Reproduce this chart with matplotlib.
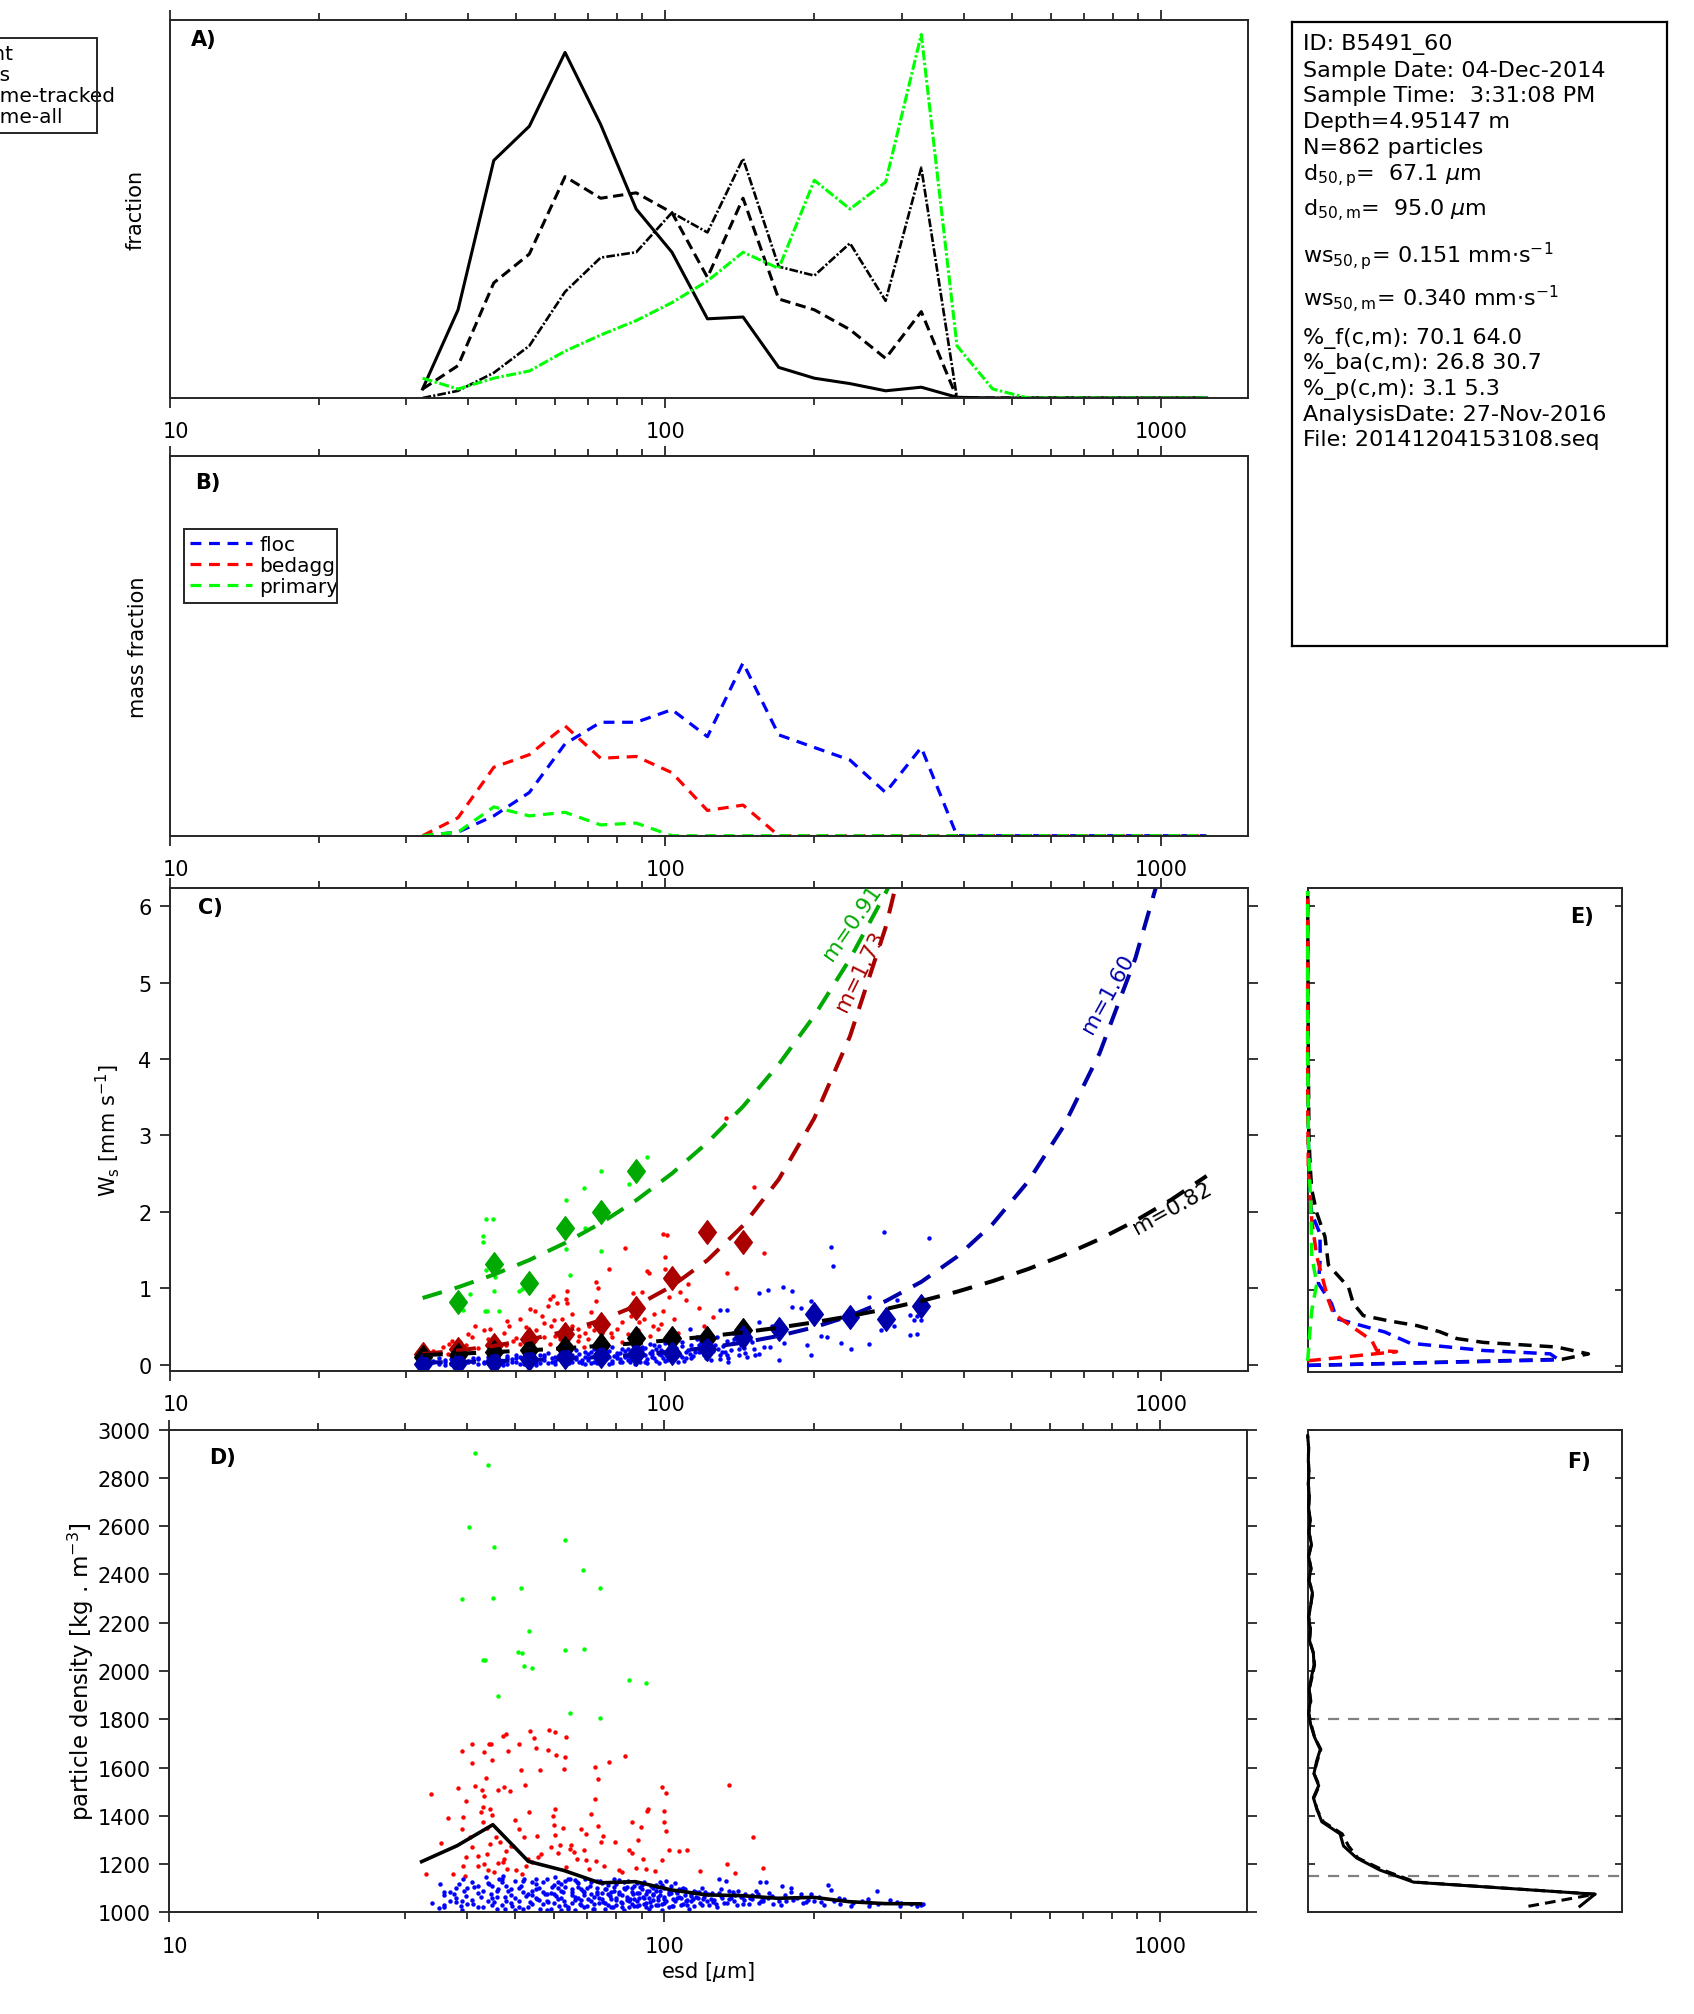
import numpy as np
import matplotlib
matplotlib.use('Agg')
import matplotlib.pyplot as plt
from matplotlib.ticker import FixedLocator, NullFormatter, LogLocator
from matplotlib.path import Path
from matplotlib.patches import Rectangle
from matplotlib.transforms import ScaledTranslation

plt.rcParams['font.family'] = ['DejaVu Sans']
plt.rcParams['mathtext.fontset'] = 'dejavusans'

# ---------------- data ----------------
esd_bins = [32.4, 38.2, 45.1, 53.2, 62.8, 74.1, 87.4, 103.2, 121.7, 143.6, 169.5, 200.0,
            236.0, 278.5, 328.7, 388.0, 458.0, 540.5, 637.9, 752.9, 888.6, 1048.8, 1237.8]

frac_count = [0.005, 0.049, 0.132, 0.151, 0.192, 0.152, 0.105, 0.081, 0.044, 0.045, 0.017, 0.011,
              0.008, 0.004, 0.006, 0.0004, 0, 0, 0, 0, 0, 0, 0]
frac_mass = [0.005, 0.018, 0.064, 0.080, 0.123, 0.111, 0.114, 0.103, 0.067, 0.111, 0.055, 0.049,
             0.038, 0.022, 0.048, 0, 0, 0, 0, 0, 0, 0, 0]
frac_vol_tracked = [0, 0.004, 0.014, 0.029, 0.059, 0.078, 0.081, 0.103, 0.092, 0.133, 0.073, 0.068,
                    0.086, 0.054, 0.128, 0, 0, 0, 0, 0, 0, 0, 0]
frac_vol_all = [0.011, 0.005, 0.011, 0.015, 0.026, 0.035, 0.043, 0.053, 0.065, 0.081, 0.072, 0.121,
                0.105, 0.120, 0.202, 0.029, 0.005, 0, 0, 0, 0, 0, 0]

mass_floc = [0, 0.002, 0.011, 0.024, 0.051, 0.063, 0.063, 0.070, 0.055, 0.096, 0.056, 0.049,
             0.042, 0.024, 0.049, 0, 0, 0, 0, 0, 0, 0, 0]
mass_bedagg = [0, 0.010, 0.038, 0.045, 0.061, 0.043, 0.044, 0.035, 0.014, 0.017, 0, 0,
               0, 0, 0, 0, 0, 0, 0, 0, 0, 0, 0]
mass_primary = [0, 0.002, 0.016, 0.011, 0.013, 0.006, 0.007, 0, 0, 0, 0, 0,
                0, 0, 0, 0, 0, 0, 0, 0, 0, 0, 0]

ws_med_floc = [0.01, 0.02, 0.03, 0.07, 0.10, 0.11, 0.135, 0.155, 0.205, 0.36, 0.47, 0.66, 0.62, 0.60, 0.77]
ws_med_bedagg = [0.14, 0.21, 0.25, 0.33, 0.40, 0.53, 0.74, 1.13, 1.73, 1.60]
ws_med_primary = [0.82, 1.32, 1.07, 1.79, 2.00, 2.54]
ws_med_all = [0.10, 0.13, 0.16, 0.19, 0.22, 0.26, 0.35, 0.35, 0.35, 0.45]

fit_labels = ['m=0.91', 'm=1.73', 'm=1.60', 'm=0.82']
fit_m = [0.91, 1.73, 1.60, 0.82]
fit_a = [0.0368, 3.374e-4, 1.018e-4, 7.19e-3]

ws_primary_pts = [(91.8, 2.72), (74.1, 2.53), (68.7, 2.31), (84.5, 2.36), (63.2, 2.16), (43.5, 1.91),
                  (45.0, 1.91), (42.8, 1.69), (42.8, 1.60), (69.0, 1.79), (63.2, 1.51), (74.1, 1.49),
                  (43.4, 1.24), (45.3, 1.15), (45.1, 0.97), (64.4, 1.17), (50.6, 0.97), (51.3, 0.99),
                  (40.3, 0.92), (39.1, 0.71), (43.3, 0.70), (43.6, 0.70), (46.3, 0.70)]
ws_bedagg_pts = [(132.6, 3.23), (151, 2.32), (98.9, 1.71), (101, 1.70), (83.0, 1.52), (100, 1.41),
                 (158, 1.46), (76.9, 1.25), (91.8, 1.23), (92.6, 1.20), (100, 1.25), (100.5, 1.12),
                 (72.5, 1.08), (73.3, 1.00), (133, 1.20), (111, 1.06), (139, 1.00), (63.3, 0.97),
                 (58.5, 0.86), (59.3, 0.90), (63.0, 0.86), (72.5, 0.83), (86, 0.94), (89.6, 0.95),
                 (102, 0.88), (107, 0.95), (58.0, 0.77), (60.6, 0.80), (63.3, 0.80), (53.3, 0.73),
                 (54.6, 0.70), (56.3, 0.63), (70.8, 0.69), (98.9, 0.70), (117, 0.74), (51.0, 0.60),
                 (52.3, 0.49), (47.9, 0.57), (48.3, 0.51), (47.4, 0.42), (41.3, 0.51), (43.1, 0.45),
                 (44.3, 0.47), (40.0, 0.40), (40.8, 0.36), (37.2, 0.31), (38.5, 0.29), (39.7, 0.25),
                 (34.0, 0.18), (35.6, 0.23), (36.7, 0.27), (58.7, 0.51), (59.6, 0.58), (62.0, 0.60),
                 (64.8, 0.51), (66.8, 0.47), (68.9, 0.42), (70.3, 0.51), (71.9, 0.45), (74.5, 0.42),
                 (77.6, 0.42), (80.0, 0.47), (81.9, 0.56), (85.2, 0.64), (88.6, 0.56), (90.7, 0.60),
                 (94.3, 0.51), (96.6, 0.47), (98.1, 0.53), (52.5, 0.40), (54.2, 0.34), (56.9, 0.36),
                 (58.6, 0.27), (61.3, 0.34), (62.5, 0.25), (43.9, 0.34), (45.4, 0.27), (47.8, 0.25),
                 (49.3, 0.31), (51.0, 0.27), (73.1, 0.31), (75.1, 0.25), (66.7, 0.31), (68.7, 0.23),
                 (64.2, 0.25), (33.2, 0.12), (32.1, 0.16), (36.4, 0.14), (42, 0.22), (46, 0.20),
                 (50, 0.35), (55, 0.45), (57, 0.55), (60, 0.38), (65, 0.66), (67, 0.38), (70, 0.33),
                 (75, 0.55), (78, 0.36), (82, 0.30), (84, 0.40), (88, 0.45), (93, 0.38), (95, 0.66),
                 (104, 0.60), (106, 0.42), (110, 0.85), (120, 0.50), (125, 0.62)]
ws_floc_pts = [(276, 1.73), (216, 1.54), (218, 1.29), (173, 1.01), (180, 0.96), (161, 0.98), (155, 0.94),
               (197, 0.83), (180, 0.76), (188, 0.74), (258, 0.88), (294, 0.84), (128.8, 0.71),
               (133.2, 0.72), (322, 0.64), (328, 0.58), (154.6, 0.56), (164, 0.51), (141, 0.48),
               (137, 0.42), (206, 0.38), (212, 0.36), (226, 0.28), (237, 0.21), (258, 0.27), (273, 0.45),
               (322, 0.40), (174, 0.28), (193, 0.25), (197, 0.13), (170, 0.06), (140, 0.31), (158, 0.23),
               (163, 0.23), (155, 0.14), (132, 0.16), (129, 0.07), (141, 0.12), (134, 0.03), (112, 0.47),
               (116, 0.36), (121, 0.25), (115, 0.16), (108, 0.10), (340, 1.66), (312, 0.65), (318, 0.58),
               (312, 0.39), (290, 0.51),
               (33, 0.02), (34, 0.05), (35, 0.01), (36, 0.04), (37, 0.07), (38, 0.02), (39, 0.05),
               (40, 0.03), (41, 0.08), (42, 0.01), (43, 0.04), (44, 0.06), (45, 0.02), (46, 0.09),
               (47, 0.04), (48, 0.01), (49, 0.07), (50, 0.03), (51, 0.10), (52, 0.05), (53, 0.02),
               (54, 0.08), (55, 0.04), (56, 0.12), (57, 0.06), (58, 0.02), (59, 0.09), (60, 0.05),
               (61, 0.13), (62, 0.03), (63, 0.08), (64, 0.11), (65, 0.04), (66, 0.07), (67, 0.14),
               (68, 0.02), (69, 0.10), (70, 0.06), (71, 0.16), (72, 0.04), (73, 0.09), (74, 0.12),
               (75, 0.03), (76, 0.07), (77, 0.18), (78, 0.05), (79, 0.11), (80, 0.08), (81, 0.15),
               (82, 0.03), (83, 0.10), (84, 0.20), (85, 0.06), (86, 0.13), (87, 0.09), (88, 0.17),
               (89, 0.04), (90, 0.12), (91, 0.22), (92, 0.07), (93, 0.15), (94, 0.10), (95, 0.25),
               (96, 0.05), (97, 0.14), (98, 0.19), (99, 0.09), (100, 0.28), (102, 0.12), (103, 0.17),
               (104, 0.07), (105, 0.22), (107, 0.13), (108, 0.30), (110, 0.09), (111, 0.19), (113, 0.25),
               (114, 0.11), (116, 0.33), (117, 0.16), (119, 0.22), (121, 0.08), (123, 0.28), (125, 0.18),
               (127, 0.36), (129, 0.12), (131, 0.24), (133, 0.31), (136, 0.19), (139, 0.40), (142, 0.26),
               (145, 0.15), (148, 0.34), (151, 0.21),
               (33, 0.06), (35, 0.08), (36, 0.00), (38, 0.09), (39, 0.01), (41, 0.03), (42, 0.07),
               (44, 0.10), (45, 0.05), (47, 0.00), (48, 0.08), (50, 0.12), (51, 0.01), (53, 0.06),
               (54, 0.14), (55, 0.00), (57, 0.10), (58, 0.15), (60, 0.01), (61, 0.07), (62, 0.17),
               (64, 0.02), (65, 0.12), (66, 0.19), (68, 0.06), (69, 0.01), (70, 0.14), (72, 0.20),
               (73, 0.02), (74, 0.08), (76, 0.16), (77, 0.01), (78, 0.23), (80, 0.12), (81, 0.03),
               (83, 0.18), (84, 0.06), (86, 0.25), (87, 0.01), (88, 0.11), (90, 0.19), (91, 0.04),
               (93, 0.27), (94, 0.14), (96, 0.20), (97, 0.02), (99, 0.16), (101, 0.06), (103, 0.24),
               (105, 0.10), (106, 0.32), (109, 0.05), (112, 0.14), (115, 0.20), (118, 0.29), (120, 0.12),
               (124, 0.06), (126, 0.25), (130, 0.17), (134, 0.09), (137, 0.28), (141, 0.20), (146, 0.10),
               (150, 0.30),
               (34, 0.03), (36, 0.06), (37, 0.01), (39, 0.08), (40, 0.05), (42, 0.09), (43, 0.02),
               (45, 0.07), (46, 0.03), (48, 0.11), (49, 0.04), (50, 0.08), (52, 0.01), (53, 0.11),
               (55, 0.07), (56, 0.02), (57, 0.13), (59, 0.04), (60, 0.10), (62, 0.07), (63, 0.14),
               (64, 0.05), (66, 0.10), (67, 0.03), (69, 0.16), (70, 0.09), (71, 0.02), (73, 0.13),
               (74, 0.05), (75, 0.18), (77, 0.10), (78, 0.02), (80, 0.15), (81, 0.07), (82, 0.21),
               (84, 0.11), (85, 0.03), (87, 0.16), (88, 0.07), (90, 0.23), (91, 0.13), (92, 0.02),
               (94, 0.18), (95, 0.09), (97, 0.24), (98, 0.12), (100, 0.05), (102, 0.20), (104, 0.14),
               (106, 0.04), (108, 0.24), (110, 0.16), (113, 0.08), (117, 0.26), (120, 0.17), (124, 0.32),
               (128, 0.21), (133, 0.13), (138, 0.33), (144, 0.22), (152, 0.12)]

dens_bin_mean = [1210, 1276, 1363, 1211, 1173, 1122, 1127, 1093, 1072, 1069, 1058, 1062, 1044, 1036, 1035]

dens_primary_pts = [(41.6, 2902), (44.2, 2854), (40.3, 2596), (45.3, 2513), (63.2, 2542), (68.7, 2417),
                    (39.1, 2297), (45.1, 2301), (51.3, 2343), (74.1, 2343), (53.3, 2165), (50.6, 2077),
                    (51.6, 2075), (63.2, 2086), (69.0, 2090), (43.1, 2044), (43.5, 2044), (52.1, 2019),
                    (54.2, 2011), (84.8, 1961), (91.8, 1949), (46.3, 1895), (64.4, 1825), (74.1, 1804)]
dens_bedagg_pts = [(33.9, 1489), (33.1, 1159), (35.5, 1286), (36.6, 1391), (37.4, 1159), (38.3, 1514),
                   (39.1, 1667), (39.3, 1394), (39.1, 1345), (39.3, 1191), (39.6, 1149), (39.9, 1460),
                   (39.9, 1229), (40.5, 1311), (40.9, 1696), (41.0, 1619), (41.0, 1269), (41.5, 1525),
                   (42.0, 1232), (42.0, 1191), (42.7, 1414), (42.9, 1507), (43.2, 1664), (43.2, 1483),
                   (43.0, 1435), (43.0, 1376), (43.2, 1199), (43.7, 1557), (43.8, 1240), (43.9, 1351),
                   (44.1, 1177), (44.4, 1696), (44.7, 1696), (44.6, 1428), (44.5, 1282), (45.0, 1630),
                   (45.0, 1405), (45.4, 1166), (45.8, 1311), (46.1, 1507), (46.2, 1203), (46.7, 1290),
                   (47.2, 1729), (47.9, 1738), (47.4, 1518), (47.2, 1207), (47.6, 1221), (47.9, 1256),
                   (48.3, 1667), (48.2, 1180), (48.9, 1501), (49.1, 1276), (49.5, 1276), (50.3, 1177),
                   (50.1, 1381), (51.0, 1696), (51.0, 1345), (51.4, 1591), (51.7, 1159), (52.1, 1311),
                   (52.4, 1526), (52.5, 1191), (53.3, 1414), (53.6, 1750), (53.0, 1221), (54.6, 1721),
                   (54.2, 1207), (55.0, 1680), (55.4, 1315), (55.6, 1228), (56.2, 1591), (56.5, 1242),
                   (58.3, 1671), (58.6, 1754), (59.1, 1269), (59.5, 1401), (59.9, 1362), (60.3, 1746),
                   (60.5, 1652), (60.3, 1428), (60.2, 1320), (61.1, 1246), (61.6, 1279), (62.5, 1348),
                   (62.8, 1594), (63.1, 1642), (63.3, 1725), (63.4, 1186), (64.4, 1262), (64.8, 1279),
                   (65.8, 1249), (66.8, 1221), (67.8, 1345), (68.9, 1260), (69.5, 1325), (69.5, 1218),
                   (70.5, 1180), (71.1, 1407), (72.6, 1601), (73.4, 1553), (72.6, 1470), (73.4, 1359),
                   (72.8, 1214), (74.5, 1290), (75.1, 1315), (75.6, 1191), (77.2, 1622), (79.6, 1290),
                   (81.0, 1177), (82.2, 1166), (83.3, 1646), (84.8, 1260), (86.1, 1373), (86.1, 1246),
                   (87.6, 1184), (88.7, 1300), (89.6, 1352), (90.7, 1221), (91.7, 1180), (92.2, 1421),
                   (92.8, 1428), (95.9, 1173), (98.9, 1518), (98.9, 1218), (101, 1495), (100, 1418),
                   (100, 1373), (101, 1338), (102, 1257), (107, 1253), (111, 1257), (118, 1171),
                   (134, 1200), (135, 1526), (139, 1163), (151, 1312), (158, 1184)]
dens_floc_pts = [(35.3, 1117), (36.0, 1086), (35.2, 1017), (35.9, 1021), (37.0, 1048), (37.6, 1076),
                 (38.5, 1117), (39.2, 1138), (39.5, 1090), (39.9, 1069), (38.0, 1041), (38.9, 1025),
                 (41.3, 1104), (41.1, 1035), (42.6, 1062), (43.7, 1145), (44.3, 1117), (44.8, 1076),
                 (45.4, 1041), (46.5, 1138), (47.2, 1152), (46.1, 1097), (47.8, 1062), (48.5, 1090),
                 (49.3, 1028), (47.8, 1014), (51.3, 1108), (52.1, 1138), (52.5, 1069), (53.5, 1041),
                 (54.2, 1090), (55.0, 1117), (55.4, 1055), (56.2, 1014), (57.4, 1076), (58.0, 1138),
                 (58.4, 1044), (59.3, 1104), (60.2, 1145), (60.6, 1069), (61.3, 1028), (62.0, 1117),
                 (62.5, 1083), (62.9, 1048), (63.8, 1014), (64.6, 1138), (65.2, 1097), (66.2, 1062),
                 (66.7, 1124), (67.7, 1035), (68.7, 1090), (69.2, 1138), (70.3, 1055), (70.8, 1111),
                 (71.9, 1014), (73.1, 1076), (74.3, 1131), (75.1, 1041), (76.4, 1097), (77.6, 1069),
                 (78.8, 1021), (80.0, 1117), (81.0, 1076), (81.9, 1041), (83.2, 1097), (84.5, 1131),
                 (85.2, 1055), (86.5, 1076), (87.9, 1028), (89.3, 1104), (90.7, 1062), (92.1, 1090),
                 (93.6, 1041), (95.1, 1076), (96.6, 1104), (98.1, 1124), (100.9, 1131), (99.7, 1055),
                 (102.1, 1076), (103.7, 1028), (105.4, 1090), (107.0, 1062), (108.7, 1097), (110.4, 1048),
                 (113.0, 1069), (114.8, 1090), (117.6, 1083), (119.5, 1055), (122.3, 1076), (125.2, 1041),
                 (128.8, 1138), (133.2, 1128), (130.3, 1069), (135.3, 1055), (137.5, 1083), (141.0, 1090),
                 (143.2, 1062), (145.5, 1076), (150.0, 1055), (155.8, 1124), (160.7, 1124), (154.6, 1076),
                 (158.2, 1048), (165.0, 1069), (173.1, 1111), (180.4, 1099), (180.4, 1083), (175.7, 1048),
                 (188.4, 1076), (197.5, 1076), (193.1, 1041), (207.4, 1044), (214.0, 1113), (216.4, 1094),
                 (226.0, 1035), (238.0, 1028), (257.7, 1055), (268.9, 1087), (258.5, 1028), (294.0, 1044),
                 (299.3, 1028), (323.0, 1025), (333.2, 1035),
                 (36, 1030), (38, 1060), (39, 1010), (40, 1100), (41, 1050), (42, 1080), (43, 1020),
                 (44, 1120), (45, 1060), (46, 1090), (47, 1030), (48, 1110), (49, 1070), (50, 1010),
                 (50, 1130), (51, 1045), (52, 1085), (53, 1020), (54, 1125), (55, 1060), (56, 1100),
                 (57, 1035), (58, 1075), (59, 1015), (60, 1115), (61, 1055), (62, 1090), (63, 1030),
                 (64, 1140), (65, 1070), (66, 1010), (67, 1105), (68, 1050), (69, 1085), (70, 1025),
                 (71, 1125), (72, 1065), (73, 1100), (74, 1040), (75, 1080), (76, 1015), (77, 1115),
                 (78, 1055), (79, 1090), (80, 1030), (81, 1135), (82, 1070), (83, 1010), (84, 1105),
                 (85, 1045), (86, 1085), (87, 1025), (88, 1120), (89, 1060), (90, 1095), (91, 1035),
                 (92, 1075), (93, 1015), (94, 1110), (95, 1050), (96, 1090), (97, 1030), (98, 1070),
                 (99, 1010), (100, 1100), (101, 1045), (103, 1080), (104, 1025), (106, 1060), (107, 1095),
                 (109, 1035), (110, 1070), (112, 1015), (114, 1055), (116, 1085), (118, 1040), (120, 1065),
                 (123, 1030), (126, 1050), (129, 1080), (132, 1040), (136, 1060), (140, 1030), (145, 1050),
                 (150, 1070), (155, 1040), (162, 1060), (170, 1045), (185, 1060), (195, 1050), (205, 1065),
                 (220, 1045), (240, 1040), (270, 1035), (300, 1040), (330, 1030),
                 (37, 1085), (40, 1035), (42, 1110), (44, 1045), (46, 1015), (47, 1125), (49, 1040),
                 (51, 1100), (52, 1015), (54, 1070), (55, 1140), (57, 1085), (58, 1045), (60, 1075),
                 (61, 1125), (62, 1010), (63, 1105), (65, 1040), (66, 1135), (67, 1060), (68, 1095),
                 (69, 1020), (71, 1075), (72, 1035), (73, 1130), (75, 1055), (76, 1095), (77, 1030),
                 (78, 1085), (79, 1140), (80, 1060), (82, 1020), (83, 1100), (84, 1050), (86, 1035),
                 (87, 1110), (88, 1045), (89, 1080), (91, 1125), (92, 1020), (93, 1060), (95, 1100),
                 (96, 1030), (97, 1065), (99, 1115), (100, 1040), (102, 1085), (104, 1055), (105, 1120),
                 (108, 1030), (110, 1095), (111, 1050), (113, 1075), (115, 1025), (117, 1060), (119, 1100),
                 (122, 1045), (125, 1080), (128, 1020), (131, 1060), (135, 1090), (138, 1045), (143, 1065),
                 (148, 1035), (153, 1090), (158, 1055), (166, 1035), (175, 1070), (190, 1040), (210, 1030),
                 (230, 1055), (250, 1045), (285, 1050), (315, 1035),
                 (34, 1040), (36, 1070), (38, 1100), (39, 1045), (41, 1125), (42, 1020), (43, 1090),
                 (45, 1030), (45, 1110), (46, 1065), (47, 1140), (48, 1045), (49, 1095), (50, 1060),
                 (51, 1020), (52, 1130), (53, 1075), (54, 1035), (55, 1095), (56, 1050), (57, 1125),
                 (58, 1010), (59, 1080), (60, 1040), (61, 1100), (62, 1060), (63, 1130), (64, 1020),
                 (65, 1085), (66, 1050), (67, 1120), (68, 1030), (69, 1070), (70, 1100), (71, 1045),
                 (72, 1015), (73, 1085), (74, 1060), (75, 1120), (76, 1040), (77, 1075), (78, 1020),
                 (79, 1105), (80, 1050), (81, 1085), (82, 1040), (83, 1125), (84, 1065), (85, 1020),
                 (86, 1100), (87, 1055), (88, 1080), (89, 1030), (90, 1115), (91, 1060), (92, 1040),
                 (93, 1090), (94, 1025), (95, 1070), (96, 1115), (97, 1050), (98, 1090), (99, 1035),
                 (100, 1065), (102, 1020), (103, 1110), (105, 1045), (106, 1080), (108, 1060), (109, 1100),
                 (111, 1030), (113, 1045), (116, 1065), (119, 1030), (121, 1085), (124, 1055), (127, 1035),
                 (130, 1095), (134, 1040), (139, 1070), (144, 1035), (149, 1060), (157, 1045), (163, 1080),
                 (172, 1030), (182, 1050), (200, 1045), (225, 1060), (260, 1040)]

# E) settling velocity distributions: fraction vs ws
e_all_ws = [0.01, 0.09, 0.16, 0.25, 0.31, 0.36, 0.45, 0.53, 0.59, 0.66, 0.82, 1.03, 1.32, 1.69, 2.0,
            2.3, 2.6, 3.0, 4.0, 5.0, 6.2]
e_all_f = [0.0, 0.81, 0.894, 0.793, 0.56, 0.475, 0.42, 0.347, 0.26, 0.177, 0.145, 0.13, 0.066, 0.055,
           0.029, 0.013, 0.008, 0.004, 0.002, 0.001, 0.0]
e_floc_ws = [0.01, 0.083, 0.161, 0.205, 0.30, 0.445, 0.62, 0.816, 1.08, 1.4, 1.73, 1.99, 2.3, 3.0, 4.0,
             5.0, 6.2]
e_floc_f = [0.0, 0.80, 0.772, 0.559, 0.326, 0.246, 0.092, 0.076, 0.034, 0.04, 0.039, 0.013, 0.005,
            0.002, 0.0, 0.0, 0.0]
e_bedagg_ws = [0.07, 0.19, 0.205, 0.336, 0.685, 0.86, 1.43, 1.9, 2.56, 3.5, 5.0, 6.2]
e_bedagg_f = [0.0, 0.283, 0.22, 0.204, 0.082, 0.066, 0.029, 0.013, 0.002, 0.0, 0.0, 0.0]
e_primary_ws = [0.07, 0.40, 0.73, 1.08, 1.43, 2.08, 2.56, 3.0, 4.0, 5.0, 6.2]
e_primary_f = [0.0, 0.006, 0.013, 0.029, 0.013, 0.01, 0.005, 0.002, 0.0, 0.0, 0.0]

# F) density distributions
f_dens = [1025, 1075, 1125, 1175, 1225, 1275, 1325, 1375, 1425, 1475, 1525, 1575, 1625, 1675, 1725,
          1775, 1825, 1875, 1925, 1975, 2025, 2075, 2125, 2175, 2225, 2275, 2325, 2375, 2425, 2475,
          2525, 2575, 2625, 2675, 2725, 2775, 2825, 2875, 2925, 2975]
f_count = [0.867, 0.915, 0.337, 0.23, 0.156, 0.114, 0.103, 0.045, 0.03, 0.018, 0.035, 0.02, 0.028, 0.04,
           0.022, 0.01, 0.003, 0.008, 0.005, 0.012, 0.02, 0.018, 0.006, 0.008, 0.003, 0.01, 0.015, 0.004,
           0.01, 0.003, 0.012, 0.004, 0.008, 0.003, 0.005, 0.002, 0.004, 0.002, 0.003, 0.0]
f_mass = [0.703, 0.915, 0.345, 0.24, 0.16, 0.13, 0.11, 0.05, 0.03, 0.02, 0.037, 0.02, 0.03, 0.042,
          0.022, 0.012, 0.003, 0.01, 0.005, 0.014, 0.022, 0.018, 0.006, 0.009, 0.003, 0.01, 0.016, 0.004,
          0.011, 0.003, 0.012, 0.004, 0.008, 0.003, 0.005, 0.002, 0.004, 0.002, 0.003, 0.0]
f_thresholds = [1150, 1800]

info_lines = ['ID: B5491_60', 'Sample Date: 04-Dec-2014', 'Sample Time:  3:31:08 PM',
              'Depth=4.95147 m', 'N=862 particles',
              r'd$_{\mathrm{50,p}}$=  67.1 $\mu$m', r'd$_{\mathrm{50,m}}$=  95.0 $\mu$m',
              r'ws$_{\mathrm{50,p}}$= 0.151 mm$\cdot$s$^{\mathrm{-1}}$',
              r'ws$_{\mathrm{50,m}}$= 0.340 mm$\cdot$s$^{\mathrm{-1}}$',
              '%_f(c,m): 70.1 64.0', '%_ba(c,m): 26.8 30.7', '%_p(c,m): 3.1 5.3',
              'AnalysisDate: 27-Nov-2016', 'File: 20141204153108.seq']

# ---------------- figure ----------------
W, H = 1694, 2015
DPI = 100
fig = plt.figure(figsize=(W / DPI, H / DPI), dpi=DPI)
SP = '#262626'


def rect(l, t, r, b):
    return [l / W, 1 - b / H, (r - l) / W, (b - t) / H]


def frame(ax, lw=1.4, color=SP):
    for s in ax.spines.values():
        s.set_linewidth(lw)
        s.set_color(color)


def style_logx(ax):
    ax.set_xscale('log')
    ax.set_xlim(10, 1500)
    ax.xaxis.set_major_locator(FixedLocator([10, 100, 1000]))
    ax.set_xticklabels(['10', '100', '1000'])
    ax.xaxis.set_minor_locator(LogLocator(base=10, subs=np.arange(2, 10), numticks=20))
    ax.xaxis.set_minor_formatter(NullFormatter())
    ax.tick_params(axis='x', which='both', direction='out', top=True, bottom=True,
                   labelsize=15, pad=9.4, width=1.3, color=SP)
    ax.tick_params(axis='x', which='major', length=7.5)
    ax.tick_params(axis='x', which='minor', length=4.7)
    lab = ax.get_xticklabels()[0]
    lab.set_transform(lab.get_transform() + ScaledTranslation(6 / DPI, 0, fig.dpi_scale_trans))
    frame(ax)


def legend_box(l, t, r, b):
    fig.patches.append(Rectangle((l / W, 1 - b / H), (r - l) / W, (b - t) / H, transform=fig.transFigure,
                                 fill=False, edgecolor=SP, lw=1.4, zorder=10))


ax_a = fig.add_axes(rect(169.6, 20.7, 1248, 399))
ax_b = fig.add_axes(rect(169.6, 457.3, 1248, 836.7))
ax_c = fig.add_axes(rect(169.6, 889, 1248, 1371.7))
ax_d = fig.add_axes(rect(168.5, 1430.7, 1247.4, 1913.3))
ax_e = fig.add_axes(rect(1307.7, 889, 1621.7, 1373.3))
ax_f = fig.add_axes(rect(1307.7, 1430.7, 1621.7, 1913.3))
ax_i = fig.add_axes(rect(1292, 23.3, 1666.7, 647))

DASHDOT = (0, (3.3, 0.8, 0.8, 0.8))

# A
ax_a.plot(esd_bins, frac_count, color='k', lw=2.2, ls='-', label='count')
ax_a.plot(esd_bins, frac_mass, color='k', lw=2.2, ls=(0, (3.4, 1.8)), label='mass')
ax_a.plot(esd_bins, frac_vol_tracked, color='k', lw=1.9, ls=DASHDOT, label='volume-tracked')
ax_a.plot(esd_bins, frac_vol_all, color='#00ff00', lw=2.2, ls=DASHDOT, label='volume-all')
style_logx(ax_a)
ax_a.set_ylim(0, 0.2102)
ax_a.set_yticks([])
ax_a.set_ylabel('fraction', fontsize=15, va='center')
ax_a.yaxis.set_label_coords(-0.032, 0.5)
ax_a.text(0.0196, 0.949, 'A)', transform=ax_a.transAxes, fontsize=15, fontweight='bold', va='center')
fig.legend(handles=ax_a.get_lines(), loc='upper right', bbox_to_anchor=(121 / W, 1 - 39 / H),
           bbox_transform=fig.transFigure, fontsize=14.5, frameon=False, borderpad=0.3,
           labelspacing=0.1, handlelength=3, handletextpad=0.4, borderaxespad=0)
legend_box(-10, 39, 96.7, 134)

# B
BDASH = (0, (3.4, 2.4))
ax_b.plot(esd_bins, mass_floc, color='#0000ff', lw=2.3, ls=BDASH, label='floc')
ax_b.plot(esd_bins, mass_bedagg, color='#ff0000', lw=2.3, ls=BDASH, label='bedagg')
ax_b.plot(esd_bins, mass_primary, color='#00ff00', lw=2.3, ls=BDASH, label='primary')
style_logx(ax_b)
ax_b.set_ylim(0, 0.2107)
ax_b.set_yticks([])
ax_b.set_ylabel('mass fraction', fontsize=15, va='center')
ax_b.yaxis.set_label_coords(-0.0297, 0.5)
ax_b.text(0.024, 0.931, 'B)', transform=ax_b.transAxes, fontsize=15, fontweight='bold', va='center')
ax_b.legend(loc='upper left', bbox_to_anchor=(0.0131, 0.8084), fontsize=14.5, frameon=False,
            borderpad=0.3, labelspacing=0.1, handlelength=3.1, handletextpad=0.35, borderaxespad=0)
legend_box(183.7, 530, 337.4, 604)

# C
diamond = Path([(0, 1), (0.75, 0), (0, -1), (-0.75, 0), (0, 1)],
               [Path.MOVETO, Path.LINETO, Path.LINETO, Path.LINETO, Path.CLOSEPOLY])
pp = np.array(ws_primary_pts)
bp = np.array(ws_bedagg_pts)
fp = np.array(ws_floc_pts)
MS = 3.2
ax_c.plot(pp[:, 0], pp[:, 1], 'o', ms=MS, mew=0, color='#00ff00')
ax_c.plot(bp[:, 0], bp[:, 1], 'o', ms=MS, mew=0, color='#ff0000')
ax_c.plot(fp[:, 0], fp[:, 1], 'o', ms=MS, mew=0, color='#0000ff')
DMS = 17
ax_c.plot(esd_bins[:len(ws_med_bedagg)], ws_med_bedagg, ls='none', marker=diamond, ms=DMS, color='#aa0000')
ax_c.plot(esd_bins[1:1 + len(ws_med_primary)], ws_med_primary, ls='none', marker=diamond, ms=DMS,
          color='#00aa00')
ax_c.plot(esd_bins[:len(ws_med_all)], ws_med_all, ls='none', marker=diamond, ms=DMS, color='k')
ax_c.plot(esd_bins[:len(ws_med_floc)], ws_med_floc, ls='none', marker=diamond, ms=DMS, color='#0000aa')
fit_colors = ['#00aa00', '#aa0000', '#0000aa', 'k']
xb = np.array(esd_bins)
for a, m, col in zip(fit_a, fit_m, fit_colors):
    ax_c.plot(xb, a * xb ** m, color=col, lw=2.9, ls=(0, (5, 3.3)))
label_pos = [(238.4, 5.80, 55), (247.4, 5.16, 63.5), (783, 4.87, 61), (1054, 2.06, 29)]
for (lx, ly, rot), lab, col in zip(label_pos, fit_labels, fit_colors):
    ax_c.text(lx, ly, lab, color=col, fontsize=15.5, rotation=rot, ha='center', va='center',
              rotation_mode='anchor')
style_logx(ax_c)
ax_c.set_ylim(-0.08, 6.24)
ax_c.set_yticks(range(7))
ax_c.tick_params(axis='y', direction='out', left=True, right=True, length=7.2, width=1.3,
                 labelsize=15, pad=5.8, color=SP)
ax_c.set_ylabel(r'W$_{\mathrm{s}}$ [mm s$^{\mathrm{-1}}$]', fontsize=15, va='center')
ax_c.yaxis.set_label_coords(-0.0571, 0.5)
ax_c.text(0.026, 0.96, 'C)', transform=ax_c.transAxes, fontsize=15, fontweight='bold', va='center')

# D
dp = np.array(dens_primary_pts)
db = np.array(dens_bedagg_pts)
df = np.array(dens_floc_pts)
ax_d.plot(dp[:, 0], dp[:, 1], 'o', ms=MS, mew=0, color='#00ff00')
ax_d.plot(db[:, 0], db[:, 1], 'o', ms=MS, mew=0, color='#ff0000')
ax_d.plot(df[:, 0], df[:, 1], 'o', ms=MS, mew=0, color='#0000ff')
ax_d.plot(esd_bins[:len(dens_bin_mean)], dens_bin_mean, color='k', lw=2.6)
style_logx(ax_d)
ax_d.set_ylim(1000, 3000)
ax_d.set_yticks(range(1000, 3001, 200))
ax_d.tick_params(axis='y', direction='out', left=True, right=True, length=7.2, width=1.3,
                 labelsize=15, pad=5.8, color=SP)
ax_d.set_ylabel(r'particle density [kg . m$^{\mathrm{-3}}$]', fontsize=16.5, va='center')
ax_d.yaxis.set_label_coords(-0.0811, 0.5)
ax_d.set_xlabel(r'esd [$\mu$m]', fontsize=15)
ax_d.xaxis.set_label_coords(0.5, -0.097)
ax_d.text(0.0375, 0.944, 'D)', transform=ax_d.transAxes, fontsize=15, fontweight='bold', va='center')

# E
EDASH = (0, (3.8, 2.3))
for f, w, col in [(e_all_f, e_all_ws, 'k'), (e_floc_f, e_floc_ws, '#0000ff'),
                  (e_bedagg_f, e_bedagg_ws, '#ff0000'), (e_primary_f, e_primary_ws, '#00ff00')]:
    ax_e.plot(f, w, color=col, lw=2.5, ls=EDASH, zorder=3, clip_on=False)
ax_e.set_xlim(0, 1)
ax_e.set_ylim(-0.08, 6.24)
ax_e.set_xticks([])
ax_e.set_yticks(range(7))
ax_e.tick_params(axis='y', direction='in', left=True, right=True, labelleft=False, length=5,
                 width=1.3, color=SP)
frame(ax_e)
ax_e.text(0.835, 0.943, 'E)', transform=ax_e.transAxes, fontsize=15, fontweight='bold', va='center')

# F
for yv in f_thresholds:
    ax_f.axhline(yv, color='#808080', lw=1.6, ls=(0, (5, 4)), zorder=1)
ax_f.plot(f_mass, f_dens, color='k', lw=2.2, ls=(0, (3.5, 2)), zorder=3, clip_on=False)
ax_f.plot(f_count, f_dens, color='k', lw=2.2, ls='-', zorder=3, clip_on=False)
ax_f.set_xlim(0, 1)
ax_f.set_ylim(1000, 3000)
ax_f.set_xticks([])
ax_f.set_yticks(range(1000, 3001, 200))
ax_f.tick_params(axis='y', direction='in', left=True, right=True, labelleft=False, length=5,
                 width=1.3, color=SP)
frame(ax_f)
ax_f.text(0.825, 0.936, 'F)', transform=ax_f.transAxes, fontsize=15, fontweight='bold', va='center')

# info box
ax_i.set_xticks([])
ax_i.set_yticks([])
frame(ax_i, lw=1.6, color='k')
baselines = [50, 76.7, 101.7, 128.3, 154, 180, 216.7, 262.3, 306.7, 344, 369.3, 395, 420.7, 445.7]
for txt, yb in zip(info_lines, baselines):
    fig.text(1303.3 / W, 1 - yb / H, txt, fontsize=16, va='baseline', ha='left')

fig.savefig('out.png', dpi=DPI)
